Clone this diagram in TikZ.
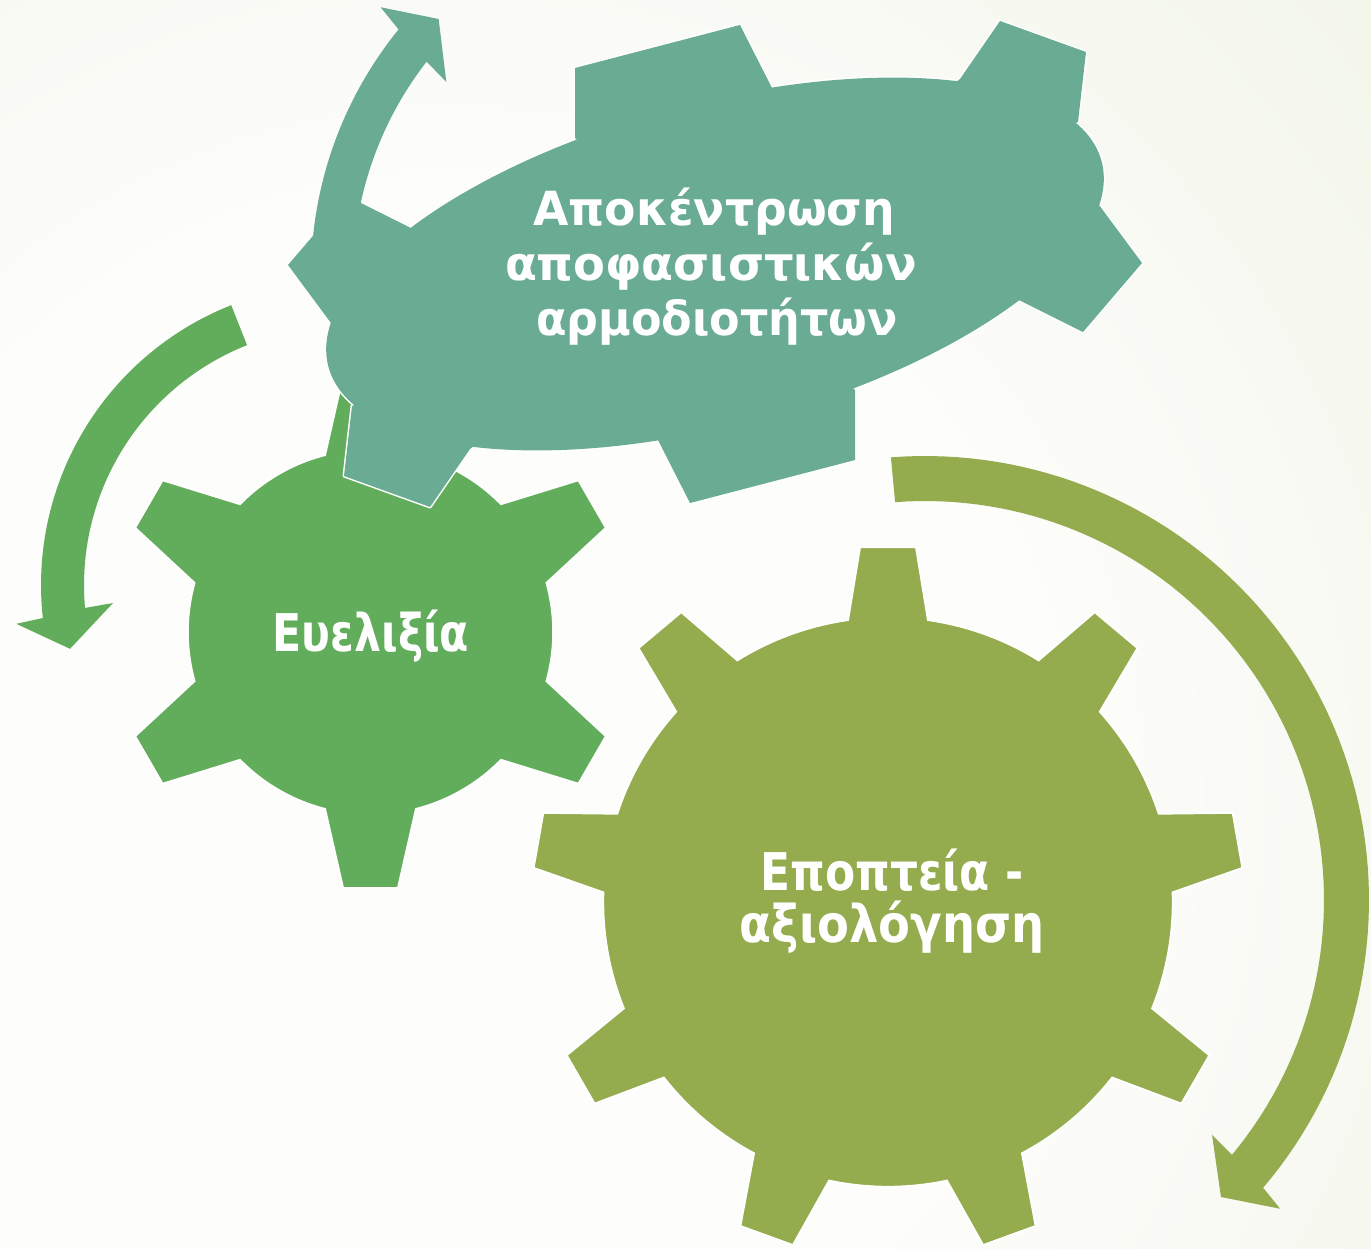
\documentclass[tikz,border=0pt]{standalone}
\usepackage{graphicx}
\usepackage{fontspec}
\setmainfont{DejaVu Sans}
\usetikzlibrary{calc}
\definecolor{tealg}{RGB}{105,172,147}
\definecolor{greeng}{RGB}{98,173,91}
\definecolor{oliveg}{RGB}{148,172,77}
\definecolor{bgedge}{RGB}{222,231,200}
\definecolor{bgmid}{RGB}{253,253,251}
\pgfdeclareradialshading{bgshade}{\pgfpoint{0bp}{0bp}}{color(0bp)=(bgmid); color(12bp)=(bgmid); color(50bp)=(bgedge)}

% round gear: #1 cx, #2 cy, #3 teeth, #4 first tooth angle, #5 base dist, #6 base half width, #7 tip dist, #8 tip half width, #9 style
\newcommand\roundgear[9]{%
  \pgfmathsetmacro\gstep{360/#3}%
  \pgfmathsetmacro\gdb{atan(#6/#5)}%
  \pgfmathsetmacro\grb{100*sqrt((#5/100)^2+(#6/100)^2)}%
  \pgfmathsetmacro\gdt{atan(#8/#7)}%
  \pgfmathsetmacro\grt{100*sqrt((#7/100)^2+(#8/100)^2)}%
  \pgfmathtruncatemacro\gn{#3-1}%
  \path[#9] ($(#1,#2)+({#4-\gdb}:\grb)$)
    \foreach \k [evaluate=\k as \ta using {#4+\k*\gstep},
                 evaluate=\k as \sa using {#4+\k*\gstep+\gdb},
                 evaluate=\k as \ea using {#4+(\k+1)*\gstep-\gdb}] in {0,...,\gn} {
      -- ($(#1,#2)+({\ta-\gdt}:\grt)$)
      -- ($(#1,#2)+({\ta+\gdt}:\grt)$)
      -- ($(#1,#2)+(\sa:\grb)$)
      -- plot[domain=\sa:\ea,samples=30] ({#1+\grb*cos(\x)},{#2+\grb*sin(\x)})
    } -- cycle;
}

\newcommand\tealgear[1]{%
  \path[#1, rotate around={14.87:(715,264)}] (715,264) ellipse[x radius=400pt, y radius=161pt];
  \path[#1] (715,264) -- (331,323) -- (288,265) -- (347,196) -- (411,228) -- cycle;
  \path[#1] (715,264) -- (575,138) -- (575,68) -- (740,25) -- (772,88) -- cycle;
  \path[#1] (715,264) -- (960,79) -- (1000,21) -- (1086,52) -- (1078,122) -- cycle;
  \path[#1] (715,264) -- (1099,205) -- (1142,263) -- (1083,332) -- (1019,300) -- cycle;
  \path[#1] (715,264) -- (855,390) -- (855,460) -- (690,503) -- (658,440) -- cycle;
  \path[#1] (715,264) -- (470,449) -- (430,507) -- (344,476) -- (352,406) -- cycle;
}

\tikzset{
  lbl/.style={text=white, inner sep=0pt, anchor=base},
  bigtxt/.style={lbl, font=\bfseries\fontsize{52}{62}\selectfont},
  smalltxt/.style={lbl, font=\bfseries\fontsize{47}{56}\selectfont},
  gearedge/.style={draw=white, line width=2pt, line join=miter},
}

\begin{document}
\begin{tikzpicture}[x=1pt,y=-1pt]
\useasboundingbox (0,0) rectangle (1371,1248);
\begin{scope}
  \clip (0,0) rectangle (1371,1248);
  \shade[shading=bgshade] (450,800) circle[radius=1250pt];
\end{scope}

% olive arrow and gear
\coordinate (oc) at (925,900);
\fill[oliveg] ($(oc)+(265.6:444)$)
  -- plot[domain=265.6:400.4,samples=80] ({925+444*cos(\x)},{900+444*sin(\x)})
  -- ($(oc)+(401.0:470.6)$) -- ($(oc)+(405.1:419.3)$) -- ($(oc)+(399.3:371)$)
  -- plot[domain=399.7:265.7,samples=80] ({925+399*cos(\x)},{900+399*sin(\x)})
  -- cycle;
\roundgear{888}{902}{9}{270}{282}{40}{355}{28}{fill=oliveg, gearedge}

% green arrow and gear
\coordinate (gc) at (342,585);
\fill[greeng] ($(gc)+(248.4:301)$)
  -- plot[domain=248.4:173.7,samples=60] ({342+301*cos(\x)},{585+301*sin(\x)})
  -- ($(gc)+(173.2:328)$) -- ($(gc)+(166.8:279.4)$) -- ($(gc)+(175.5:229.7)$)
  -- plot[domain=174.9:248.4,samples=60] ({342+258*cos(\x)},{585+258*sin(\x)})
  -- cycle;
\roundgear{370.5}{632}{6}{270}{177}{45.5}{256}{27.5}{fill=greeng, gearedge}

% teal gear, then its arrow on top
\tealgear{fill=white, draw=white, line width=3pt, line join=round}
\tealgear{fill=tealg}
\coordinate (tc) at (702,276);
\fill[tealg] ($(tc)+(182:391)$)
  -- plot[domain=182:219.1,samples=40] ({702+391*cos(\x)},{276+391*sin(\x)})
  -- ($(tc)+(219.9:419)$) -- ($(tc)+(224.3:368)$) -- ($(tc)+(217.2:321)$)
  -- plot[domain=217.9:182,samples=40] ({702+349*cos(\x)},{276+349*sin(\x)})
  -- cycle;

% labels
\node[smalltxt] (t1) at (714,225) {\scalebox{0.973}[1]{Αποκέντρωση}};
\node[smalltxt] (t2) at (711,280) {\scalebox{0.988}[1]{αποφασιστικών}};
\node[smalltxt] (t3) at (717,335) {\scalebox{0.947}[1]{αρμοδιοτήτων}};
\node[bigtxt] (g1) at (371,651) {\scalebox{0.82}[1]{Ευελιξία}};
\node[bigtxt] (o1) at (892,890) {\scalebox{0.844}[1]{Εποπτεία -}};
\node[bigtxt] (o2) at (892,942) {\scalebox{0.893}[1]{αξιολόγηση}};
\end{tikzpicture}
\end{document}
